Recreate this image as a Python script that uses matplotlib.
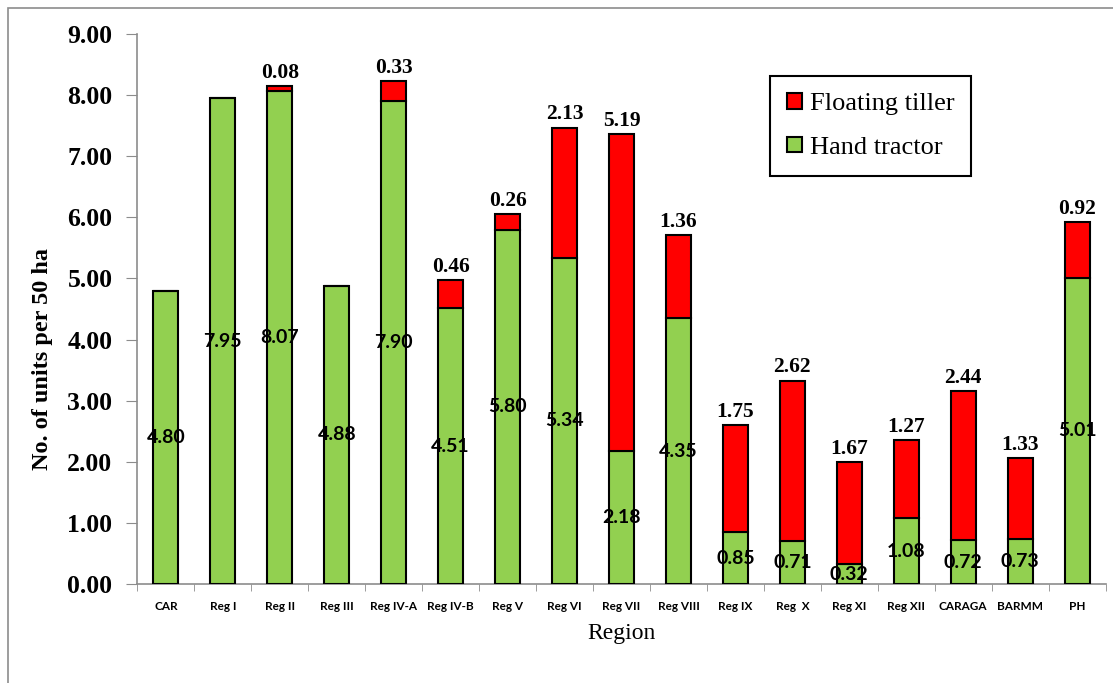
import matplotlib
matplotlib.use("Agg")
import matplotlib.pyplot as plt
from matplotlib.patches import Rectangle
import numpy as np

regions = ["CAR", "Reg I", "Reg II", "Reg III", "Reg IV-A", "Reg IV-B", "Reg V",
           "Reg VI", "Reg VII", "Reg VIII", "Reg IX", "Reg  X", "Reg XI", "Reg XII",
           "CARAGA", "BARMM", "PH"]
hand_tractor = [4.80, 7.95, 8.07, 4.88, 7.90, 4.51, 5.80, 5.34, 2.18, 4.35,
                0.85, 0.71, 0.32, 1.08, 0.72, 0.73, 5.01]
floating_tiller = [0.00, 0.00, 0.08, 0.00, 0.33, 0.46, 0.26, 2.13, 5.19, 1.36,
                   1.75, 2.62, 1.67, 1.27, 2.44, 1.33, 0.92]

GREEN = "#92D050"
RED = "#FF0000"
SERIF = "Liberation Serif"
SANS = "Lato"

fig = plt.figure(figsize=(11.13, 6.83), dpi=100)
ax = fig.add_axes([0.1235, 0.1449, 0.8698, 0.8053])

# outer chart border
fig.patches.append(Rectangle((8 / 1113, -0.05), 1.2, 1 - 8 / 683 + 0.05,
                             transform=fig.transFigure, fill=False,
                             edgecolor="#8c8c8c", linewidth=1.2))

x = np.arange(len(regions))
w = 0.44
ax.bar(x, hand_tractor, w, color=GREEN, edgecolor="black", linewidth=1.5,
       label="Hand tractor", zorder=3)
ax.bar(x, floating_tiller, w, bottom=hand_tractor, color=RED, edgecolor="black",
       linewidth=1.5, label="Floating tiller", zorder=3)

for xi, h, f in zip(x, hand_tractor, floating_tiller):
    ax.text(xi, h / 2, f"{h:.2f}", ha="center", va="center", fontsize=14,
            fontweight="bold", family=SANS, zorder=4)
    if f > 0:
        ax.text(xi, h + f + 0.05, f"{f:.2f}", ha="center", va="bottom",
                fontsize=15.5, fontweight="bold", family=SERIF, zorder=4)

ax.set_xlim(-0.5, len(regions) - 0.5)
ax.set_ylim(0, 9)
ax.set_yticks(np.arange(0, 9.01, 1))
ax.set_yticklabels([f"{v:.2f}" for v in np.arange(0, 9.01, 1)],
                   fontsize=18.5, fontweight="bold", family=SERIF)
ax.set_xticks(x)
ax.set_xticklabels(regions, fontsize=8.5, fontweight="bold", family=SANS)
ax.set_xticks(np.arange(-0.5, len(regions)), minor=True)
ax.tick_params(axis="x", which="major", length=0, pad=12)
ax.tick_params(axis="x", which="minor", length=5, color="#8c8c8c", direction="out")
ax.tick_params(axis="y", length=8, color="#8c8c8c", direction="out", pad=10)

for side in ("top", "right"):
    ax.spines[side].set_visible(False)
for side in ("left", "bottom"):
    ax.spines[side].set_color("#8c8c8c")
    ax.spines[side].set_linewidth(1.2)

ax.set_ylabel("No. of units per 50 ha", fontsize=17.5, fontweight="bold",
              family=SERIF)
ax.yaxis.set_label_coords(-0.087, 0.41)
ax.set_xlabel("Region", fontsize=17, family=SERIF, labelpad=8)

handles, labels = ax.get_legend_handles_labels()
leg = ax.legend(handles[::-1], labels[::-1], loc="upper left",
                bbox_to_anchor=(0.6534, 0.9236), borderaxespad=0,
                prop={"family": SERIF, "size": 19},
                fancybox=False, edgecolor="black", framealpha=1,
                handlelength=0.55, handleheight=0.55, handletextpad=0.3,
                labelspacing=0.8, borderpad=0.65)
leg.get_frame().set_linewidth(1.5)

fig.savefig("out.png", dpi=100)
